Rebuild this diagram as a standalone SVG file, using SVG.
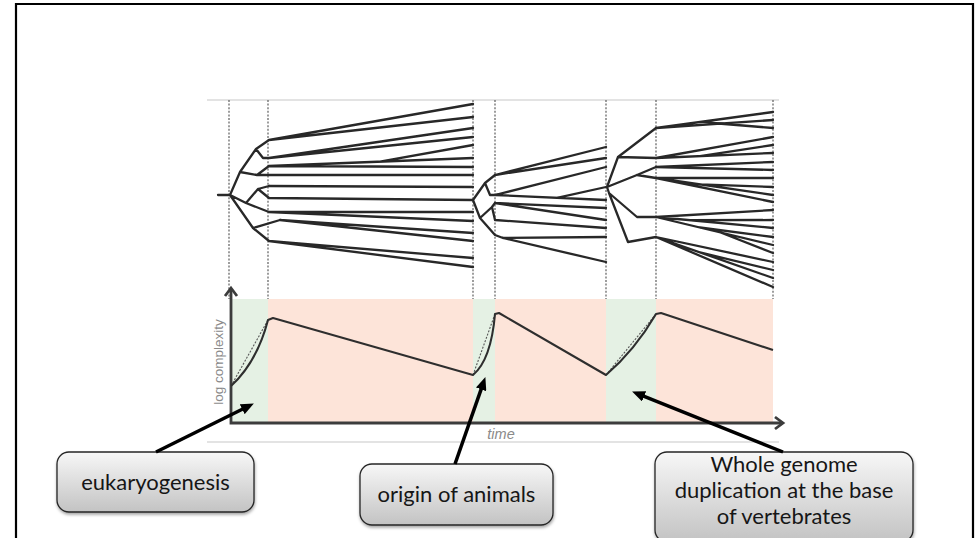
<svg xmlns="http://www.w3.org/2000/svg" width="980" height="538" viewBox="0 0 980 538">
  <style>
    .frame { fill: none; stroke: #000; stroke-width: 2.2; }
    .rule { stroke: #c8c8c8; stroke-width: 1.2; }
    .epoch { stroke: #6a6a6a; stroke-width: 1.3; stroke-dasharray: 2 1.6; }
    .tree { fill: none; stroke: #282828; stroke-width: 2.3; stroke-linejoin: round; stroke-linecap: round; }
    .axis { fill: none; stroke: #3c3c3c; stroke-width: 2.8; }
    .curve { fill: none; stroke: #2e2e2e; stroke-width: 2.1; stroke-linejoin: round; }
    .trend { fill: none; stroke: #555; stroke-width: 1.1; stroke-dasharray: 2 1.5; }
    .gain { fill: #e5f1e4; }
    .loss { fill: #fde4d9; }
    .axlabel { font-family: "Liberation Sans", Arial, sans-serif; fill: #8a8a8a; }
    .box { fill: url(#boxfill); stroke: #262626; stroke-width: 1.3; filter: url(#shadow); }
    .label { font-family: Lato, "Open Sans", sans-serif; font-size: 22px; fill: #161616; text-anchor: middle; }
    .arrow { fill: none; stroke: #000; stroke-width: 3.5; marker-end: url(#head); }
  </style>
  <defs>
    <linearGradient id="boxfill" x1="0" y1="0" x2="0" y2="1">
      <stop offset="0" stop-color="#f7f7f7"/>
      <stop offset="1" stop-color="#c3c3c3"/>
    </linearGradient>
    <filter id="shadow" x="-10%" y="-10%" width="125%" height="140%">
      <feDropShadow dx="0.5" dy="2" stdDeviation="1.6" flood-color="#000" flood-opacity="0.35"/>
    </filter>
    <marker id="head" viewBox="0 0 13 11" markerWidth="13" markerHeight="11" refX="4" refY="5.5" markerUnits="userSpaceOnUse" orient="auto">
      <path d="M0,0 L13,5.5 L0,11 z" fill="#000"/>
    </marker>
  </defs>

  <rect width="980" height="538" fill="#fff"/>
  <path class="frame" d="M16,538 V4 H973 V538"/>

  <!-- figure rules -->
  <line class="rule" x1="207" y1="100" x2="779" y2="100"/>
  <line class="rule" x1="207" y1="442" x2="779" y2="442"/>

  <!-- shaded phases -->
  <rect class="gain" x="231" y="299" width="37" height="124"/>
  <rect class="loss" x="268" y="299" width="205" height="124"/>
  <rect class="gain" x="473" y="299" width="22" height="124"/>
  <rect class="loss" x="495" y="299" width="111" height="124"/>
  <rect class="gain" x="606" y="299" width="50" height="124"/>
  <rect class="loss" x="656" y="299" width="117" height="124"/>

  <!-- epoch markers -->
  <g class="epoch">
    <line x1="229" y1="100" x2="229" y2="299"/>
    <line x1="268" y1="100" x2="268" y2="299"/>
    <line x1="473" y1="100" x2="473" y2="299"/>
    <line x1="495" y1="100" x2="495" y2="299"/>
    <line x1="606" y1="100" x2="606" y2="299"/>
    <line x1="656" y1="100" x2="656" y2="299"/>
    <line x1="773" y1="100" x2="773" y2="299"/>
  </g>

  <!-- lineage trees -->
  <path class="tree" d="M218,195 H230
    M230,195 L240,172 L256,149 L269,140 M256,149 L263,158 L269,158
    M240,172 L257,175 L269,166 M257,175 L269,175
    M230,195 L246,203 L258,189 L269,186 M258,189 L269,198 M246,203 L269,212
    M230,195 L253,228 L269,241 M253,228 L280,220
    M269,140 L473,104 M269,140 L473,117
    M269,158 L473,128 M269,158 L473,137
    M269,166 L473,158 M380,161.6 L473,145 M269,166 L473,167
    M269,175 L473,175
    M269,186 L473,187
    M269,198 L473,200
    M269,212 L473,212 M269,212 L473,221
    M280,220 L473,233 M280,220 L473,241
    M269,241 L473,258 M269,241 L473,267"/>
  <path class="tree" d="M473,200 L485,183 L495,175 M485,183 L490,195 L495,195
    M473,200 L480,218 L492,207 L495,203 M492,207 L495,220 M480,218 L495,235 L503,238
    M495,175 L606,147 M495,175 L606,158
    M495,195 L606,167 M495,195 L606,200 M557,197.8 L606,187
    M495,203 L606,208 M495,203 L606,220
    M495,220 L606,228
    M503,238 L606,237 M503,238 L606,262"/>
  <path class="tree" d="M607,187 L618,157 L656,128 M618,157 L656,158
    M607,187 L637,175 L656,167 M637,175 L656,178
    M607,187 L609,193 L637,217 L656,217 M609,193 L628,242 L656,237
    M656,128 L773,112 M656,128 L773,120 M700,122 L773,128
    M656,158 L773,137 M656,158 L773,153 M700,156.1 L773,145
    M656,167 L773,162 M656,167 L773,170
    M656,178 L773,178 M656,178 L773,195 M700,184.4 L773,187 M656,178 L773,202
    M656,217 L773,210 M656,217 L773,228 M690,220.2 L773,220
    M656,217 L773,245 M700,227.5 L773,237 M720,232.3 L773,253
    M656,237 L773,262 M656,237 L773,278 M700,252.4 L773,270 M656,237 L773,287"/>

  <!-- complexity plot -->
  <path class="axis" d="M231,289 V423 H782"/>
  <path class="axis" d="M225,296 L231,288 L237,296"/>
  <path class="axis" d="M775,417 L783,423 L775,429"/>
  <path class="trend" d="M231,386 L268,320 M473,375 L495,314 M606,375 L656,314"/>
  <path class="curve" d="M231,386 Q257,362 268,320 L273,318 L473,375 Q491,360 495,314 L499,313 L606,375 Q635,350 656,314 L661,313 L773,350"/>
  <text class="axlabel" transform="translate(223,362) rotate(-90)" text-anchor="middle" font-size="13.5">log complexity</text>
  <text class="axlabel" x="501" y="439" text-anchor="middle" font-style="italic" font-size="14.5">time</text>

  <!-- callouts -->
  <g id="eukaryogenesis">
    <rect class="box" x="57" y="452" width="197" height="60" rx="12"/>
    <text class="label" x="155.5" y="490">eukaryogenesis</text>
  </g>
  <g id="origin-of-animals">
    <rect class="box" x="360" y="464" width="193" height="61" rx="12"/>
    <text class="label" x="456.5" y="502">origin of animals</text>
  </g>
  <g id="wgd-vertebrates">
    <rect class="box" x="655" y="452" width="258" height="90" rx="12"/>
    <text class="label" x="784" y="472">Whole genome</text>
    <text class="label" x="784" y="498">duplication at the base</text>
    <text class="label" x="784" y="524">of vertebrates</text>
  </g>

  <g id="connectors">
    <line class="arrow" x1="156" y1="452" x2="245.8" y2="407.5"/>
    <line class="arrow" x1="455" y1="464" x2="482.4" y2="385.6"/>
    <line class="arrow" x1="783" y1="452" x2="640.4" y2="394.9"/>
  </g>
</svg>
